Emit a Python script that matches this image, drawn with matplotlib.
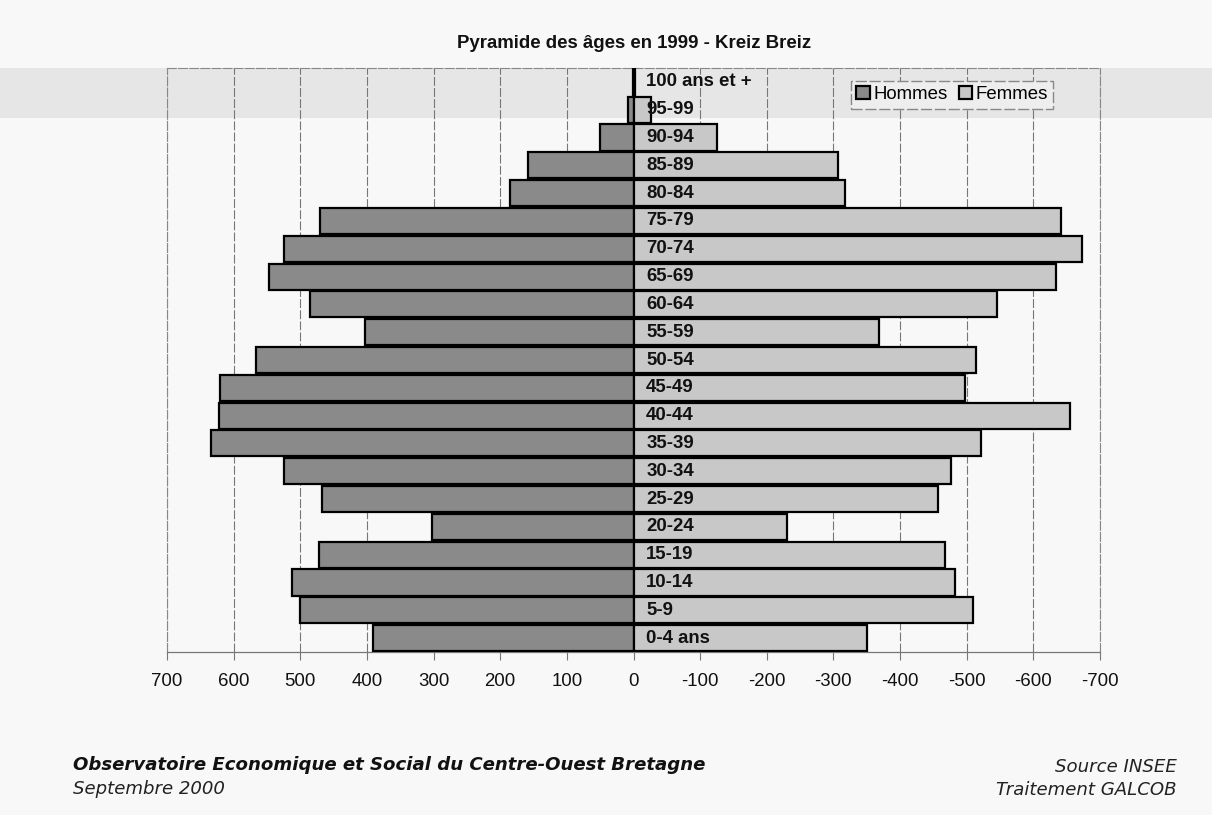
import matplotlib
matplotlib.use("Agg")
import matplotlib.pyplot as plt
from matplotlib.patches import Rectangle, Patch
from matplotlib.ticker import FuncFormatter

plt.rcParams["axes.unicode_minus"] = False  # tirets simples pour les négatifs

# tranches d'âge, du bas vers le haut
ages = ["0-4 ans", "5-9", "10-14", "15-19", "20-24", "25-29", "30-34", "35-39",
        "40-44", "45-49", "50-54", "55-59", "60-64", "65-69", "70-74", "75-79",
        "80-84", "85-89", "90-94", "95-99", "100 ans et +"]
hommes = [391, 500, 512, 472, 302, 467, 524, 634, 622, 621, 566, 403, 486,
          547, 525, 470, 185, 158, 50, 8, 1]
femmes = [-350, -510, -483, -468, -230, -457, -476, -521, -655, -497, -514,
          -368, -546, -634, -673, -642, -318, -307, -126, -26, -2]
ticks = [700, 600, 500, 400, 300, 200, 100, 0, -100, -200, -300, -400, -500, -600, -700]

fig = plt.figure(figsize=(12.12, 8.15), dpi=100, facecolor="#f8f8f8")
# bande grise de la page (transparence du scan)
fig.patches.append(Rectangle((0, 1 - 118 / 815), 1, 50 / 815, transform=fig.transFigure,
                             facecolor="#e6e6e6", edgecolor="none", zorder=0))

ax = fig.add_axes([167 / 1212, 1 - 652 / 815, 933 / 1212, 584 / 815])
ax.set_facecolor("none")
ax.set_zorder(2)

y = list(range(len(ages)))
ax.barh(y, hommes, height=0.94, color="#8a8a8a", edgecolor="black", linewidth=1.6, zorder=3)
ax.barh(y, femmes, height=0.94, color="#c8c8c8", edgecolor="black", linewidth=1.6, zorder=3)

for i, lab in enumerate(ages):
    ax.text(-19, i, lab, ha="left", va="center", fontsize=13.4, fontweight="bold",
            family="Liberation Sans", color="#111111", zorder=4)

ax.set_xlim(700, -700)
ax.set_ylim(-0.5, len(ages) - 0.5)
ax.set_xticks(ticks)
ax.xaxis.set_major_formatter(FuncFormatter(lambda v, p: "%d" % v))
ax.set_yticks([])
ax.tick_params(axis="x", direction="out", length=6, color="#777777", pad=9,
               labelsize=13.4, labelcolor="#111111")
for t in ax.get_xticklabels():
    t.set_family("Liberation Sans")
ax.grid(axis="x", color="#777777", linewidth=0.8, linestyle=(0, (8, 2)), zorder=1)

for s in ["top", "left", "right"]:
    ax.spines[s].set_color("#888888")
    ax.spines[s].set_linestyle((0, (8, 2)))
    ax.spines[s].set_linewidth(0.8)
ax.spines["bottom"].set_color("#777777")
ax.spines["bottom"].set_linewidth(0.9)

handles = [Patch(facecolor="#8a8a8a", edgecolor="black", linewidth=1.6),
           Patch(facecolor="#c8c8c8", edgecolor="black", linewidth=1.6)]
leg = ax.legend(handles, ["Hommes", "Femmes"], ncol=2, loc="upper right",
                bbox_to_anchor=(0.95, 0.978), borderaxespad=0, fancybox=False,
                framealpha=1, facecolor="#eeeeee", edgecolor="#888888",
                handlelength=0.7, handleheight=0.7, handletextpad=0.2,
                columnspacing=0.6, borderpad=0.3,
                prop={"family": "Liberation Sans", "size": 13.4})
leg.get_frame().set_linestyle((0, (8, 2)))
leg.set_zorder(5)

fig.text(634 / 1212, 1 - 43 / 815, "Pyramide des âges en 1999 - Kreiz Breiz",
         ha="center", va="center", fontsize=13.4, fontweight="bold",
         family="Liberation Sans", color="#111111")

fig.text(73 / 1212, 1 - 765 / 815, "Observatoire Economique et Social du Centre-Ouest Bretagne",
         ha="left", va="center", fontsize=13.1, fontweight="bold", style="italic",
         family="DejaVu Sans", color="#111111")
fig.text(73 / 1212, 1 - 789 / 815, "Septembre 2000", ha="left", va="center",
         fontsize=13.1, style="italic", family="DejaVu Sans", color="#222222")
fig.text(1177 / 1212, 1 - 767 / 815, "Source INSEE", ha="right", va="center",
         fontsize=13.1, style="italic", family="DejaVu Sans", color="#222222")
fig.text(1177 / 1212, 1 - 790 / 815, "Traitement GALCOB", ha="right", va="center",
         fontsize=13.1, style="italic", family="DejaVu Sans", color="#222222")

fig.savefig("out.png", dpi=100, facecolor=fig.get_facecolor())
